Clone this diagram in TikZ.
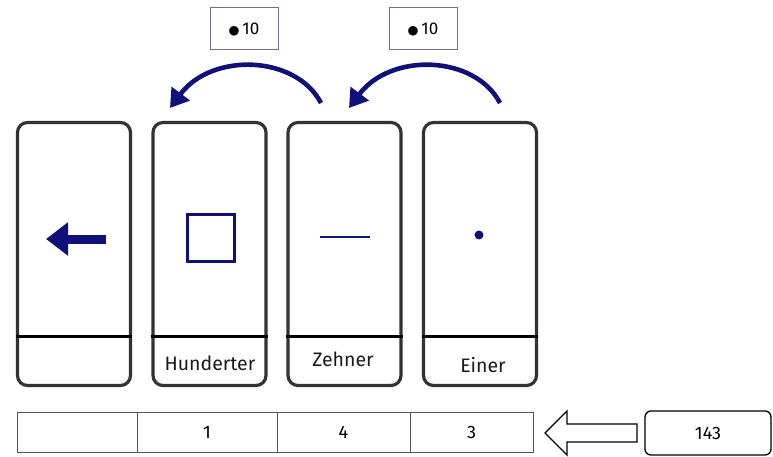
\documentclass[tikz,border=0pt]{standalone}
\usepackage{fontspec}
\setmainfont{Fira Sans}
\newfontfamily\dvfont{DejaVu Sans}
\usetikzlibrary{arrows.meta}
\definecolor{navy}{HTML}{10107A}
\definecolor{cardline}{HTML}{333333}
\definecolor{boxline}{HTML}{6E6E96}
\definecolor{tabline}{HTML}{555555}
\newcommand{\bigdot}{{\dvfont\fontsize{12.5}{12}\selectfont ●}}
\begin{document}
\begin{tikzpicture}[x=1pt,y=-1pt,
  card/.style={draw=cardline,line width=3.2pt,rounded corners=10pt,minimum width=113pt,minimum height=263pt,inner sep=0pt},
  divider/.style={draw=black,line width=3pt},
  lbl/.style={font=\fontsize{19.5}{21}\selectfont,text=black!90},
  topbox/.style={draw=boxline,line width=1pt,minimum width=68pt,minimum height=42pt,inner sep=0pt,font=\fontsize{17}{19}\selectfont},
  carryarrow/.style={draw=navy,line width=4.6pt,-{Triangle[length=18pt,width=22pt]}},
  cell/.style={draw=tabline,line width=0.9pt,minimum height=40pt,inner sep=0pt,font=\fontsize{18}{20}\selectfont},
  numbox/.style={draw=black,line width=1.3pt,rounded corners=6pt,minimum width=126pt,minimum height=44pt,inner sep=0pt,font=\fontsize{18}{20}\selectfont}
]
\useasboundingbox (0,0) rectangle (773,457);
% cards
\node[card] (c1) at (74,254) {};
\node[card] (c2) at (209.5,254) {};
\node[card] (c3) at (344.5,254) {};
\node[card] (c4) at (480,254) {};
\foreach \c in {c1,c2,c3,c4}{
  \coordinate (\c l) at ([yshift=-82pt]\c.west);
  \coordinate (\c r) at ([yshift=-82pt]\c.east);
  \draw[divider] (\c l) -- (\c r);
}
% labels
\node[lbl] (hun) at (210,363) {Hunderter};
\node[lbl] (zeh) at (343,359) {Zehner};
\node[lbl] (ein) at (483,365) {Einer};
% symbols
\coordinate (a1s) at (106,239);
\coordinate (a1e) at (46,239);
\draw[navy,line width=9pt,-{Triangle[length=22pt,width=32pt]}] (a1s) -- (a1e);
\node[draw=navy,line width=3.2pt,minimum width=47pt,minimum height=47pt,inner sep=0pt] (sq) at (211,238) {};
\coordinate (l1) at (320,237);
\coordinate (l2) at (370,237);
\draw[navy,line width=2.8pt] (l1) -- (l2);
\node[fill=navy,circle,minimum size=9pt,inner sep=0pt] (dot) at (479,235) {};
% top boxes
\node[topbox] (t1) at (244,29) {\bigdot\,10};
\node[topbox] (t2) at (423,29) {\bigdot\,10};
% curved arrows
\coordinate (b1s) at (321,103);
\coordinate (b1e) at (170,108);
\coordinate (b2s) at (500,103);
\coordinate (b2e) at (349,108);
\draw[carryarrow] (b1s) .. controls (296,55) and (212,52) .. (b1e);
\draw[carryarrow] (b2s) .. controls (475,55) and (391,52) .. (b2e);
% table
\node[cell,minimum width=120pt] (k1) at (77,432.5) {};
\node[cell,minimum width=140pt] (k2) at (207,432.5) {1};
\node[cell,minimum width=133pt] (k3) at (343.5,432.5) {4};
\node[cell,minimum width=123pt] (k4) at (471.5,432.5) {3};
% hollow arrow
\draw[black,line width=1.3pt,line join=miter] (545,433) -- (567,411) -- (567,424) -- (637,424) -- (637,442) -- (567,442) -- (567,455) -- cycle;
\node[numbox] (n) at (708,433) {143};
\end{tikzpicture}
\end{document}
